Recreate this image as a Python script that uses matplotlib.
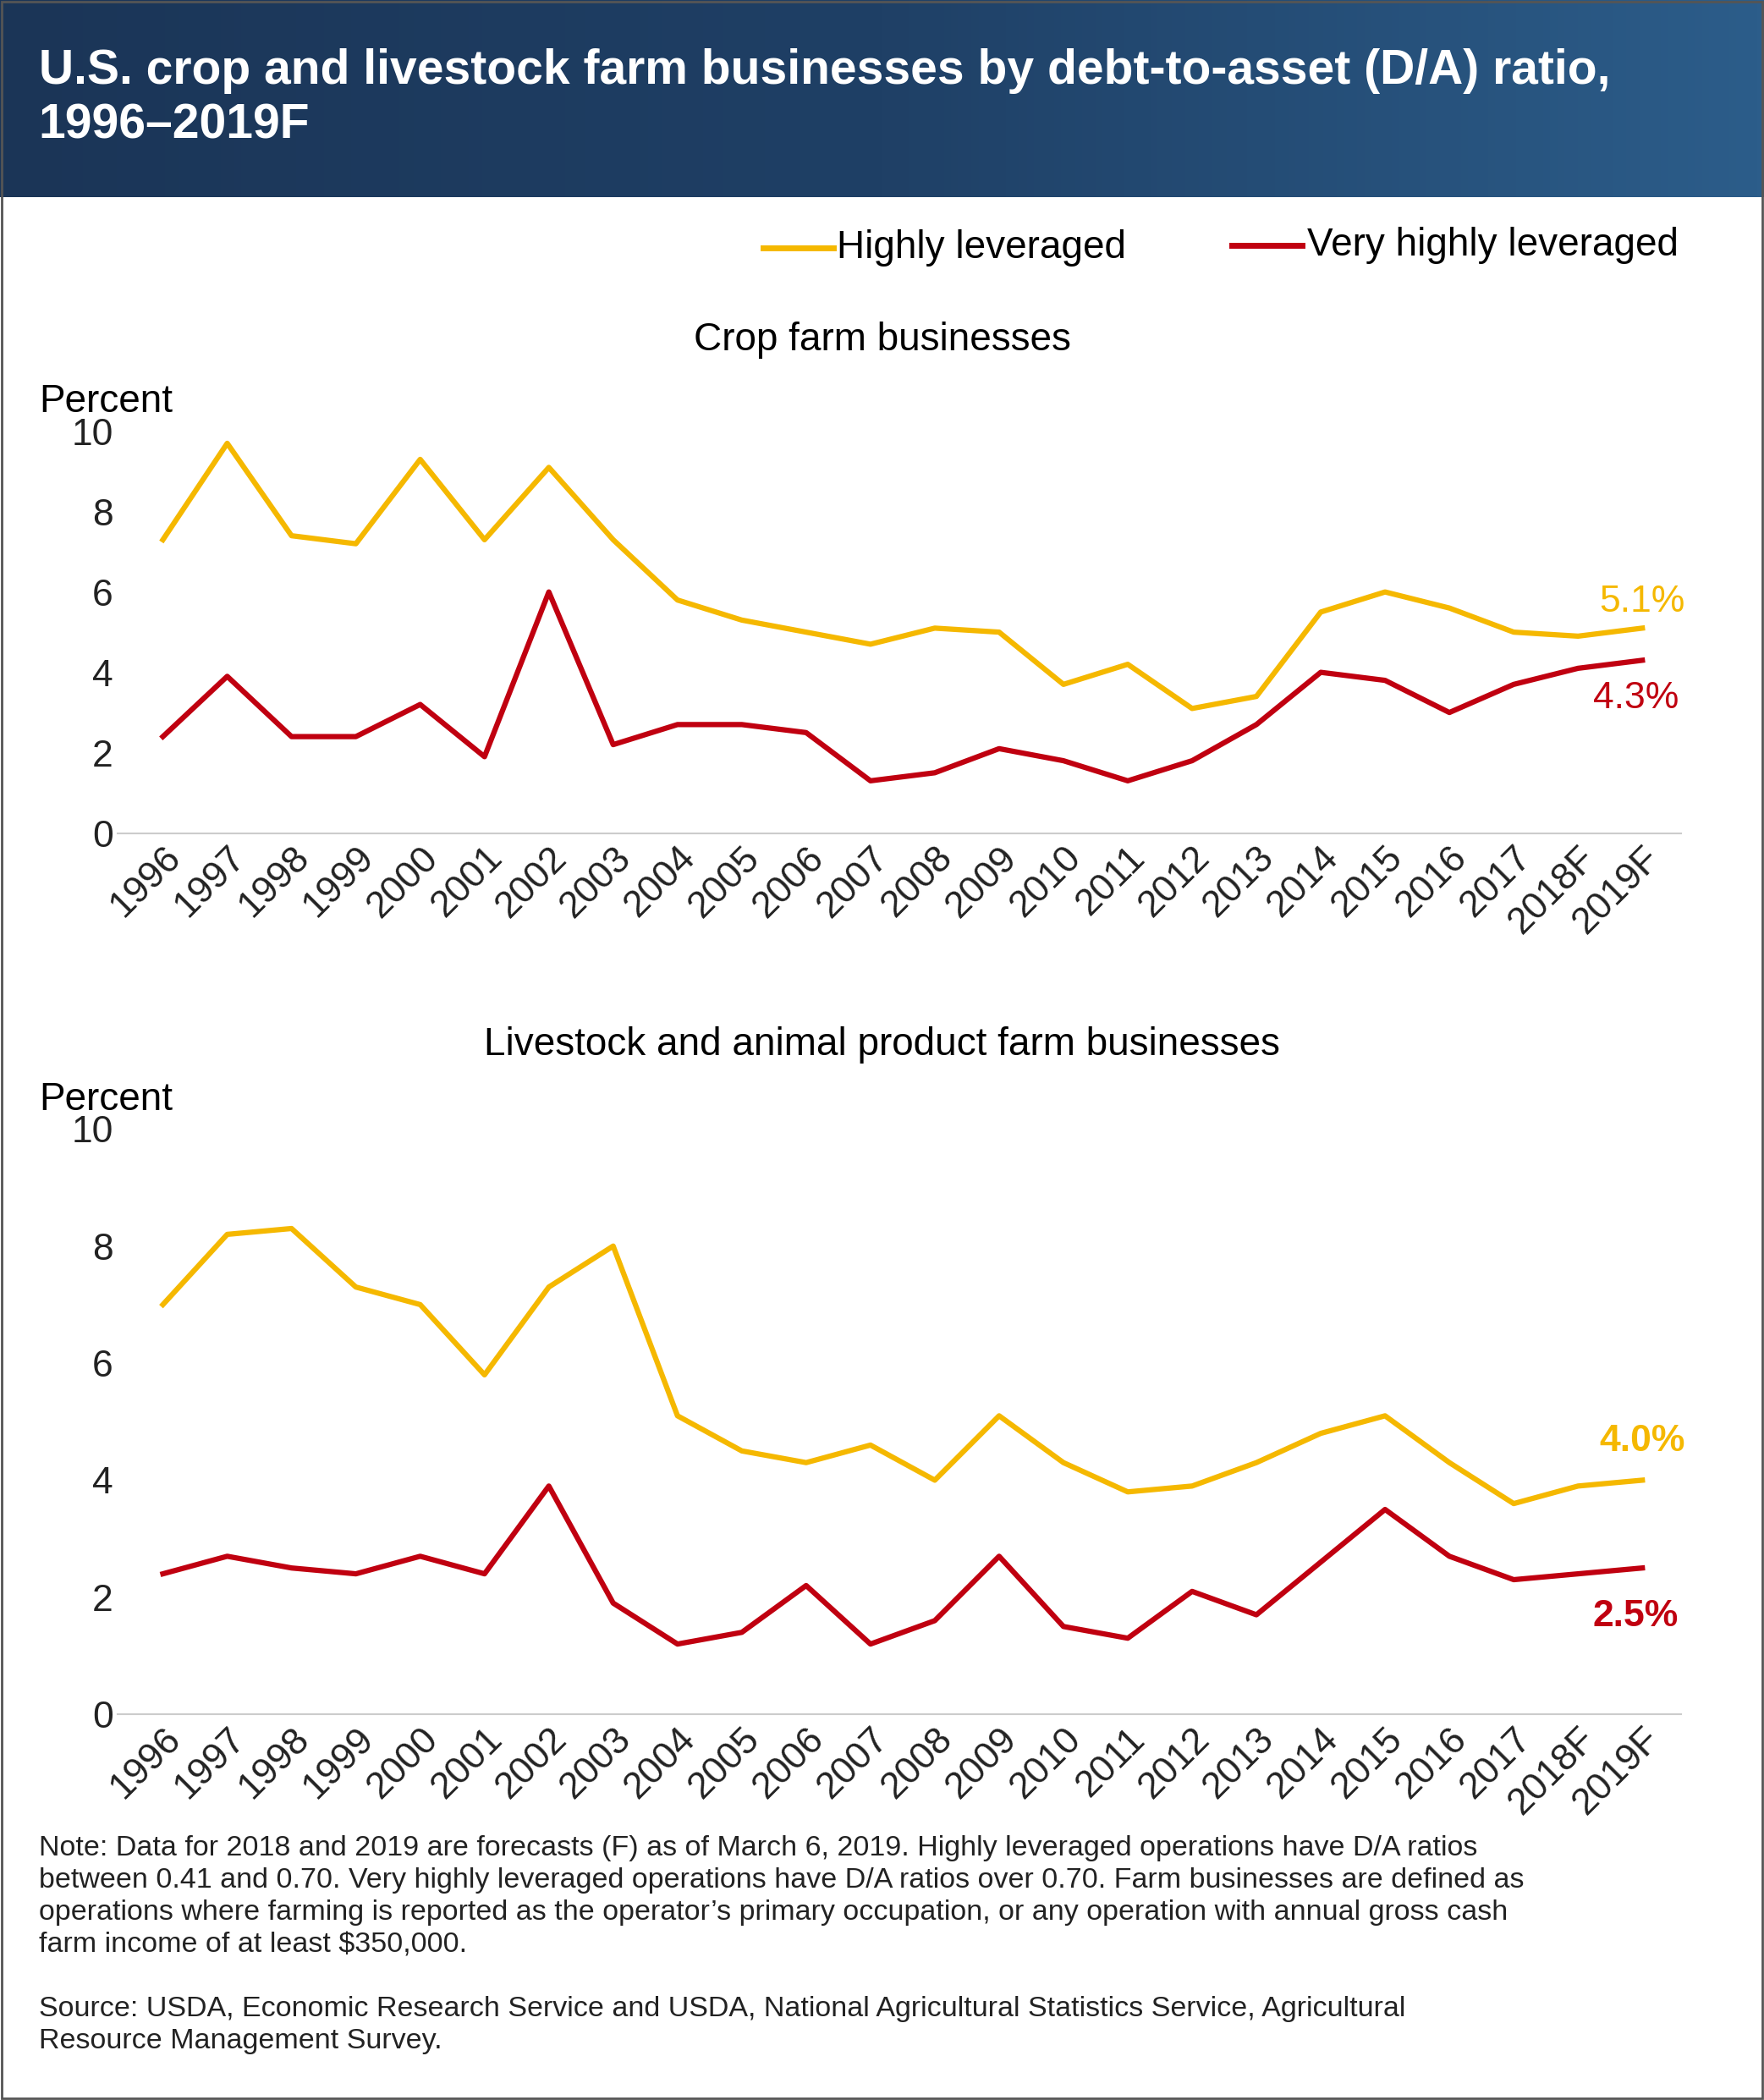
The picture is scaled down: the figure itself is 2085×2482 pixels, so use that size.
import numpy as np
import matplotlib
matplotlib.use("Agg")
import matplotlib.pyplot as plt
from matplotlib.colors import LinearSegmentedColormap
from matplotlib.patches import Rectangle

plt.rcParams["font.family"] = ["Liberation Sans", "DejaVu Sans"]

years = ['1996', '1997', '1998', '1999', '2000', '2001', '2002', '2003', '2004', '2005',
         '2006', '2007', '2008', '2009', '2010', '2011', '2012', '2013', '2014', '2015',
         '2016', '2017', '2018F', '2019F']

crop_high = [7.3, 9.7, 7.4, 7.2, 9.3, 7.3, 9.1, 7.3, 5.8, 5.3, 5.0, 4.7,
             5.1, 5.0, 3.7, 4.2, 3.1, 3.4, 5.5, 6.0, 5.6, 5.0, 4.9, 5.1]
crop_very = [2.4, 3.9, 2.4, 2.4, 3.2, 1.9, 6.0, 2.2, 2.7, 2.7, 2.5, 1.3,
             1.5, 2.1, 1.8, 1.3, 1.8, 2.7, 4.0, 3.8, 3.0, 3.7, 4.1, 4.3]
live_high = [7.0, 8.2, 8.3, 7.3, 7.0, 5.8, 7.3, 8.0, 5.1, 4.5, 4.3, 4.6,
             4.0, 5.1, 4.3, 3.8, 3.9, 4.3, 4.8, 5.1, 4.3, 3.6, 3.9, 4.0]
live_very = [2.4, 2.7, 2.5, 2.4, 2.7, 2.4, 3.9, 1.9, 1.2, 1.4, 2.2, 1.2,
             1.6, 2.7, 1.5, 1.3, 2.1, 1.7, 2.6, 3.5, 2.7, 2.3, 2.4, 2.5]

YELLOW = '#f5b800'
RED = '#c00010'
H = 1568.0
W = 1317.0

fig = plt.figure(figsize=(20.85, 24.82), dpi=100)

# header band with gradient
hax = fig.add_axes([0, 1 - 147 / H, 1, 147 / H])
cmap = LinearSegmentedColormap.from_list('hdr', ['#1b3557', '#1f4066', '#2c5d8a'])
hax.imshow(np.linspace(0, 1, 256)[None, :], aspect='auto', cmap=cmap, extent=[0, 1, 0, 1])
hax.set_axis_off()
hax.text(0.022, 0.5, 'U.S. crop and livestock farm businesses by debt-to-asset (D/A) ratio,\n1996–2019F',
         color='white', fontsize=41, fontweight='bold', va='center', ha='left', linespacing=1.25)

fig.patches.append(Rectangle((0.001, 0.001), 0.998, 0.998, transform=fig.transFigure,
                             fill=False, edgecolor='#555555', linewidth=2))

x = np.arange(len(years))


def panel(top_px, bot_px, title_px, high, very, title, lab_h, lab_v, bold, off_h, off_v):
    ax = fig.add_axes([88 / W, 1 - bot_px / H, 1167 / W, (bot_px - top_px) / H])
    ax.plot(x, high, color=YELLOW, linewidth=4.5)
    ax.plot(x, very, color=RED, linewidth=4.5)
    ax.set_xlim(-0.7, 23.6)
    ax.set_ylim(0, 10)
    ax.set_yticks([0, 2, 4, 6, 8, 10])
    ax.set_xticks(x)
    ax.set_xticklabels(years, rotation=45, ha='right', rotation_mode='anchor')
    ax.tick_params(axis='both', labelsize=32, length=0, colors='#222222')
    ax.tick_params(axis='x', pad=6)
    ax.tick_params(axis='y', pad=4)
    for s in ['top', 'right', 'left']:
        ax.spines[s].set_visible(False)
    ax.spines['bottom'].set_color('#cccccc')
    ax.spines['bottom'].set_linewidth(1.5)
    fig.text(29 / W, 1 - (top_px - 22) / H, 'Percent', fontsize=33, ha='left', va='center')
    fig.text(0.5, 1 - title_px / H, title, fontsize=33, ha='center', va='center')
    w = 'bold' if bold else 'normal'
    ax.text(23.0, high[-1] + off_h, lab_h, color=YELLOW, fontsize=32, ha='center', fontweight=w)
    ax.text(22.9, very[-1] + off_v, lab_v, color=RED, fontsize=32, ha='center', fontweight=w)
    return ax


panel(322, 622, 254, crop_high, crop_very,
      'Crop farm businesses', '5.1%', '4.3%', False, 0.4, -1.2)
panel(843, 1280, 780, live_high, live_very,
      'Livestock and animal product farm businesses', '4.0%', '2.5%', True, 0.5, -1.0)

# legend
fig.add_artist(plt.Line2D([570 / W, 622 / W], [1 - 185 / H] * 2, color=YELLOW, lw=5))
fig.text(625 / W, 1 - 185 / H, 'Highly leveraged', fontsize=33, va='center')
fig.add_artist(plt.Line2D([920 / W, 972 / W], [1 - 183 / H] * 2, color=RED, lw=5))
fig.text(976 / W, 1 - 183 / H, 'Very highly leveraged', fontsize=33, va='center')

note = ("Note: Data for 2018 and 2019 are forecasts (F) as of March 6, 2019. Highly leveraged operations have D/A ratios\n"
        "between 0.41 and 0.70. Very highly leveraged operations have D/A ratios over 0.70. Farm businesses are defined as\n"
        "operations where farming is reported as the operator’s primary occupation, or any operation with annual gross cash\n"
        "farm income of at least $350,000.")
source = ("Source: USDA, Economic Research Service and USDA, National Agricultural Statistics Service, Agricultural\n"
          "Resource Management Survey.")
fig.text(29 / W, 1 - 1370 / H, note, fontsize=24.5, va='top', linespacing=1.3, color='#222222')
fig.text(29 / W, 1 - 1490 / H, source, fontsize=24.5, va='top', linespacing=1.3, color='#222222')

fig.savefig('out.png', dpi=100)
